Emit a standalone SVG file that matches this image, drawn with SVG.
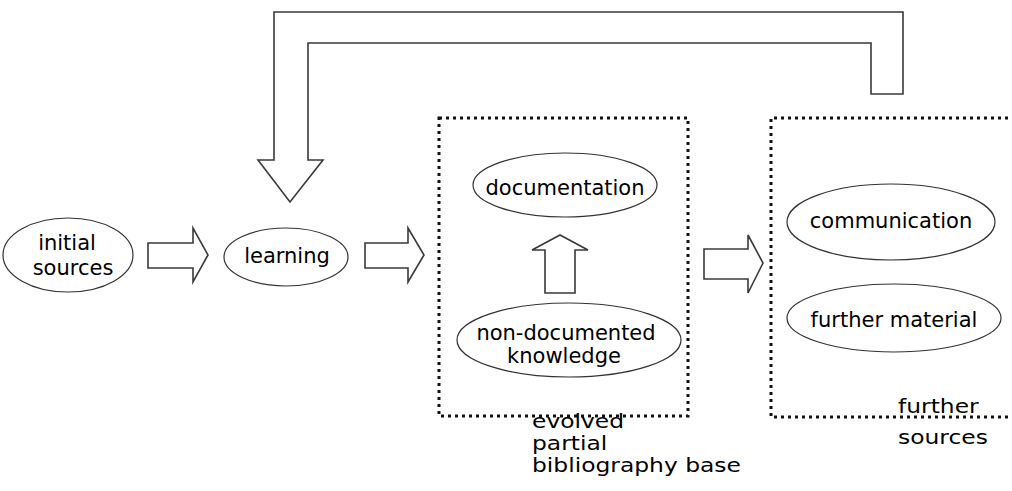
<svg xmlns="http://www.w3.org/2000/svg" width="1012" height="491" viewBox="0 0 1012 491">
<style>
.bg{fill:#fff}
.arrow{fill:#fff;stroke:#3a3a3a;stroke-width:1.6;stroke-linejoin:miter}
.node{fill:#fff;stroke:#333;stroke-width:1.2}
.box{fill:none;stroke:#111;stroke-width:3;stroke-dasharray:3 4}
.lbl{font-family:"DejaVu Sans",sans-serif;font-size:21px;fill:#000;text-anchor:middle}
.cap{font-family:"DejaVu Sans",sans-serif;font-size:20px;fill:#000}
</style>
<rect class="bg" x="0" y="0" width="1012" height="491"/>
<g id="box-evolved">
<rect class="box" x="439" y="118" width="249" height="298"/>
<g transform="translate(532 0) scale(1.17 1)">
<text class="cap" x="0" y="428">evolved</text>
<text class="cap" x="0" y="450">partial</text>
<text class="cap" x="0" y="472">bibliography base</text>
</g>
</g>
<g id="box-further">
<path class="box" d="M1015 118 H771 V417 H1015"/>
<g transform="translate(898 0) scale(1.17 1)">
<text class="cap" x="0" y="413">further</text>
<text class="cap" x="0" y="444">sources</text>
</g>
</g>
<g id="connectors">
<path class="arrow" d="M274 160 V12 H903 V94 H871 V43 H308 V160 H323 L290 202 L258 160 Z"/>
<path class="arrow" d="M148 243 H193 V228 L208 255 L193 282 V268 H148 Z"/>
<path class="arrow" d="M365 243 H408 V228 L424 255 L408 282 V268 H365 Z"/>
<path class="arrow" d="M704 249 H748 V235 L763 263 L748 293 V279 H704 Z"/>
<path class="arrow" d="M545 293 V250 H532 L560 235 L588 250 H575 V293 Z"/>
</g>
<g id="node-initial">
<ellipse class="node" cx="68" cy="255" rx="65" ry="37"/>
<text class="lbl" x="67" y="250">initial</text>
<text class="lbl" x="73" y="275">sources</text>
</g>
<g id="node-learning">
<ellipse class="node" cx="286" cy="257" rx="62" ry="29"/>
<text class="lbl" x="287" y="263">learning</text>
</g>
<g id="node-documentation">
<ellipse class="node" cx="565" cy="185" rx="92" ry="32"/>
<text class="lbl" x="565" y="195">documentation</text>
</g>
<g id="node-nondoc">
<ellipse class="node" cx="569" cy="340" rx="112" ry="37"/>
<text class="lbl" x="566" y="340">non-documented</text>
<text class="lbl" x="564" y="363">knowledge</text>
</g>
<g id="node-communication">
<ellipse class="node" cx="891" cy="222" rx="104" ry="38"/>
<text class="lbl" x="891" y="228">communication</text>
</g>
<g id="node-further-material">
<ellipse class="node" cx="894" cy="318" rx="107" ry="34"/>
<text class="lbl" x="894" y="327">further material</text>
</g>
</svg>
